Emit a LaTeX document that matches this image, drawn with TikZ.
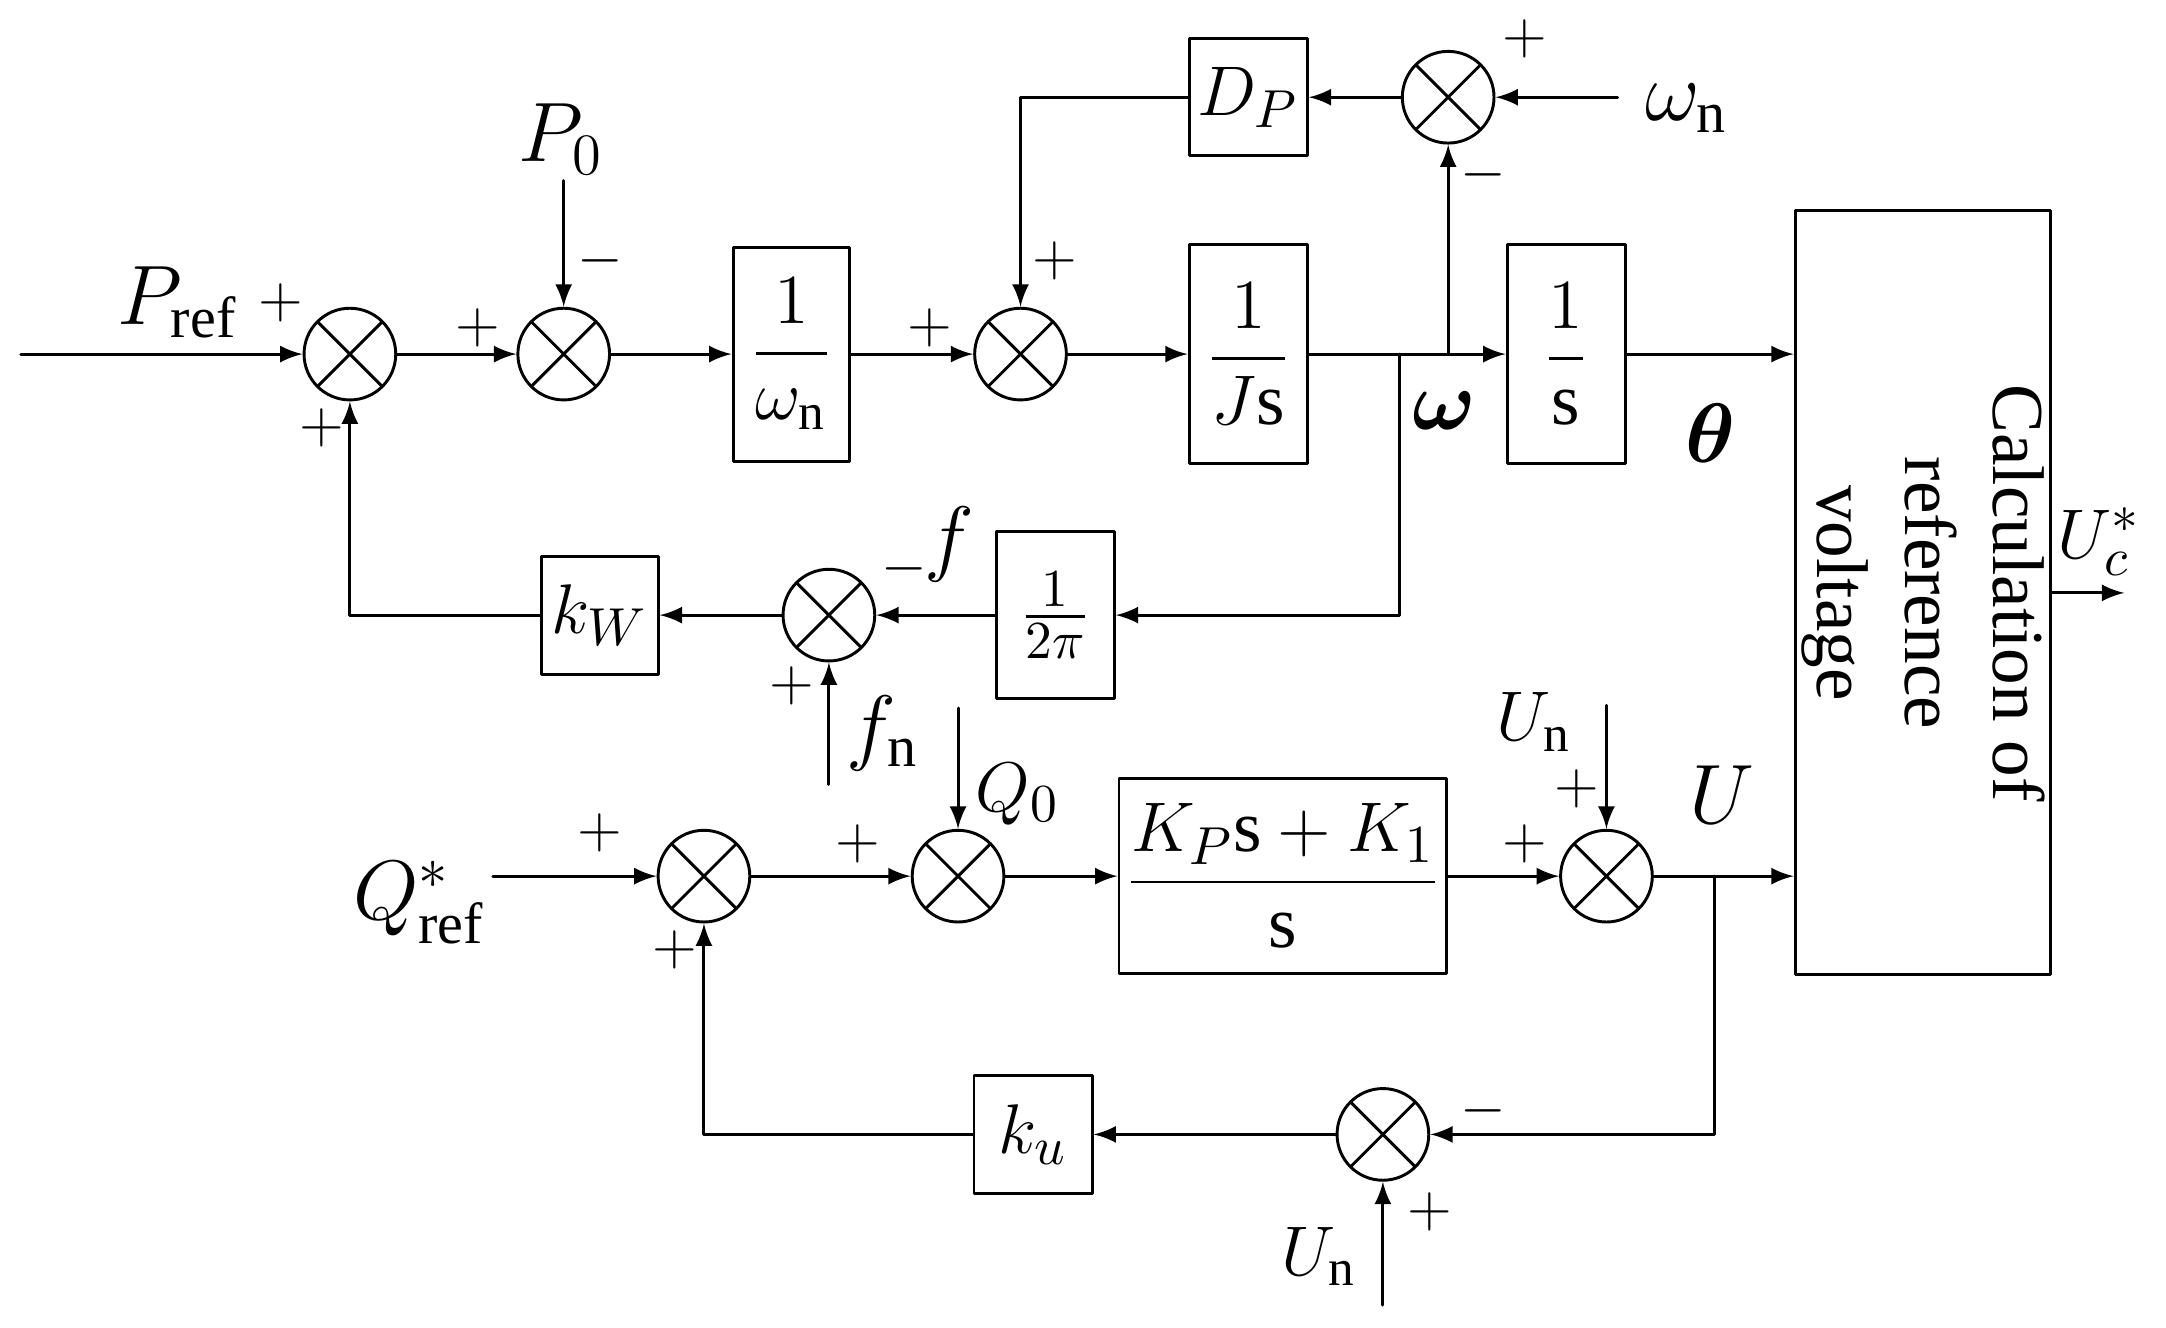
\documentclass[tikz,border=0pt]{standalone}
\usepackage{amsmath}
\usepackage{fontspec}
\setmainfont{Liberation Serif}
\usetikzlibrary{arrows,positioning}
\tikzset{
  sum/.style={circle,draw,minimum size=0.66cm,inner sep=0pt,
    path picture={\draw (path picture bounding box.north west)--(path picture bounding box.south east)
      (path picture bounding box.north east)--(path picture bounding box.south west);}},
  blk/.style={draw,inner sep=0pt},
  sgn/.style={font=\fontsize{13}{15}\selectfont},
  lbl/.style={font=\fontsize{17}{20}\selectfont}
}
\begin{document}
\begin{tikzpicture}[line cap=round,line join=round,>=latex,x=0.01cm,y=-0.01cm,font=\fontsize{15}{18}\selectfont,line width=0.6pt]
\useasboundingbox (0,0) rectangle (1560,956);
% upper loop
\node[sum] (s1) at (252,255) {};
\node[sum] (s2) at (406,255) {};
\node[blk,minimum width=0.84cm,minimum height=1.54cm] (bw) at (570,255) {$\dfrac{1}{\omega_{\mathrm{n}}}$};
\node[sum] (s3) at (735,255) {};
\node[blk,minimum width=0.85cm,minimum height=1.58cm] (bj) at (899,255) {$\dfrac{1}{J\mathrm{s}}$};
\node[blk,minimum width=0.85cm,minimum height=1.58cm] (bs) at (1128,255) {$\dfrac{1}{\mathrm{s}}$};
\node[blk,minimum width=5.5cm,minimum height=1.84cm,align=center,rotate=-90] (calc) at (1385,427) {Calculation of\\reference\\voltage};
\node[sum] (s4) at (1043,70) {};
\node[blk,minimum width=0.85cm,minimum height=0.84cm] (dp) at (899,70) {$D_P$};
\node[blk,minimum width=0.85cm,minimum height=1.2cm] (bpi) at (760,443) {$\frac{1}{2\pi}$};
\node[sum] (s5) at (597,443) {};
\node[blk,minimum width=0.84cm,minimum height=0.85cm] (kw) at (432,443) {$k_W$};
\coordinate (pin) at (15,255);
\coordinate (p0) at (406,130);
\coordinate (wn) at (1165,70);
\coordinate (fn) at (597,565);
\coordinate (jw) at (1043,255);
\coordinate (jf) at (1008,255);
\coordinate (uc) at (1530,427);
\draw[->] (pin) -- (s1);
\draw[->] (s1) -- (s2);
\draw[->] (p0) -- (s2);
\draw[->] (s2) -- (bw);
\draw[->] (bw) -- (s3);
\draw[->] (s3) -- (bj);
\draw[->] (bj) -- (bs);
\draw[->] (bs) -- (calc.south |- bs);
\draw[->] (jw) -- (s4);
\draw[->] (wn) -- (s4);
\draw[->] (s4) -- (dp);
\draw[->] (dp) -| (s3);
\draw[->] (jf) |- (bpi);
\draw[->] (bpi) -- (s5);
\draw[->] (fn) -- (s5);
\draw[->] (s5) -- (kw);
\draw[->] (kw) -| (s1);
\draw[->] (calc.north |- uc) -- (uc);
% lower loop
\node[sum] (s6) at (507,631) {};
\node[sum] (s7) at (690,631) {};
\node[blk,minimum width=2.36cm,minimum height=1.4cm] (pi) at (924,631) {$\dfrac{K_P\mathrm{s}+K_1}{\mathrm{s}}$};
\node[sum] (s8) at (1157,631) {};
\node[sum] (s9) at (996,817) {};
\node[blk,minimum width=0.85cm,minimum height=0.85cm] (ku) at (744,817) {$k_u$};
\coordinate (qin) at (355,631);
\coordinate (q0) at (690,510);
\coordinate (un1) at (1157,508);
\coordinate (un2) at (996,940);
\coordinate (ju) at (1235,631);
\draw[->] (qin) -- (s6);
\draw[->] (s6) -- (s7);
\draw[->] (q0) -- (s7);
\draw[->] (s7) -- (pi);
\draw[->] (pi) -- (s8);
\draw[->] (un1) -- (s8);
\draw[->] (s8) -- (calc.south |- s8);
\draw[->] (ju) |- (s9);
\draw[->] (un2) -- (s9);
\draw[->] (s9) -- (ku);
\draw[->] (ku) -| (s6);
% labels
\node[lbl] at (128,218) {$P_{\mathrm{ref}}$};
\node[sgn] at (202,218) {$+$};
\node[sgn] at (232,308) {$+$};
\node[sgn] at (344,236) {$+$};
\node[sgn] at (432,188) {$-$};
\node[lbl] at (404,100) {$P_0$};
\node[sgn] at (670,236) {$+$};
\node[sgn] at (760,188) {$+$};
\node[sgn] at (1098,28) {$+$};
\node[sgn] at (1068,126) {$-$};
\node[lbl] at (1215,78) {$\omega_{\mathrm{n}}$};
\node[lbl] at (1040,296) {$\boldsymbol{\omega}$};
\node[lbl] at (1232,312) {$\boldsymbol{\theta}$};
\node[lbl] at (684,392) {$f$};
\node[sgn] at (651,410) {$-$};
\node[sgn] at (570,494) {$+$};
\node[lbl] at (636,528) {$f_{\mathrm{n}}$};
\node at (1512,390) {$U_c^*$};
\node[lbl] at (302,650) {$Q_{\mathrm{ref}}^*$};
\node[sgn] at (432,600) {$+$};
\node[sgn] at (486,684) {$+$};
\node[sgn] at (618,608) {$+$};
\node at (733,572) {$Q_0$};
\node[sgn] at (1098,608) {$+$};
\node[sgn] at (1136,568) {$+$};
\node at (1105,520) {$U_{\mathrm{n}}$};
\node[lbl] at (1240,572) {$U$};
\node[sgn] at (1068,800) {$-$};
\node[sgn] at (1030,873) {$+$};
\node at (950,905) {$U_{\mathrm{n}}$};
\end{tikzpicture}
\end{document}
